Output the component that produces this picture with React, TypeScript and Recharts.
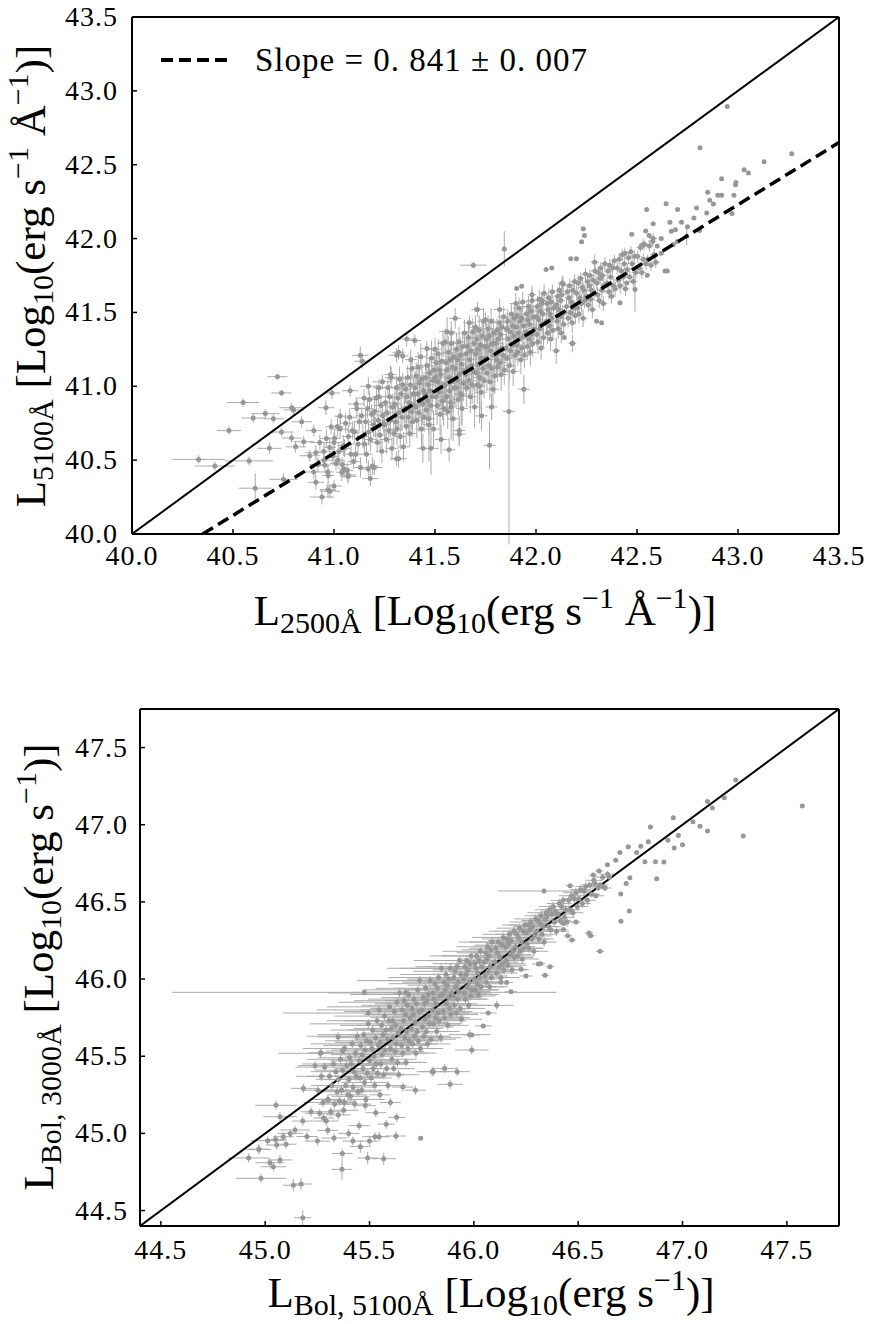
import React from "react";
import { ScatterChart, Scatter, XAxis, YAxis, ErrorBar, Legend } from "recharts";

// [x, y, xerr, yerr]
type Pt = [number, number, number, number | [number, number]];

const topDomain: [number, number] = [40, 43.5];
const topTicks = [40, 40.5, 41, 41.5, 42, 42.5, 43, 43.5];
const bottomDomain: [number, number] = [44.4, 47.75];
const bottomTicks = [44.5, 45, 45.5, 46, 46.5, 47, 47.5];

const fitSlope = 0.841;
const fitSlopeErr = 0.007;
const fitLine = [
  { x: 40.35, y: 40.0 },
  { x: 43.5, y: 42.65 },
];
const topUnity = [
  { x: 40, y: 40 },
  { x: 43.5, y: 43.5 },
];
const bottomUnity = [
  { x: 44.4, y: 44.4 },
  { x: 47.75, y: 47.75 },
];

// L5100 vs L2500 : faint end / outliers
const topLower: Pt[] = [
  [40.33, 40.505, 0.13, 0.03], [40.41, 40.46, 0.1, 0.03], [40.48, 40.7, 0.06, 0.03],
  [40.55, 40.89, 0.08, 0.03], [40.6, 40.785, 0.06, 0.03], [40.66, 40.815, 0.07, 0.03],
  [40.7, 40.78, 0.05, 0.03], [40.72, 41.065, 0.05, 0.02], [40.74, 40.955, 0.05, 0.02],
  [40.58, 40.495, 0.12, 0.03], [40.61, 40.31, 0.08, 0.1], [40.79, 40.855, 0.06, 0.03],
  [40.8, 40.84, 0.05, 0.03], [40.84, 40.76, 0.05, 0.04], [40.74, 40.69, 0.06, 0.03],
  [40.79, 40.65, 0.05, 0.03], [40.68, 40.58, 0.06, 0.04], [40.81, 40.59, 0.05, 0.04],
  [40.85, 40.625, 0.05, 0.04], [40.9, 40.7, 0.04, 0.04], [40.75, 40.37, 0.07, 0.04],
  [40.94, 40.25, 0.06, 0.05], [40.98, 40.29, 0.05, 0.05], [41.0, 40.325, 0.04, 0.04],
  [40.91, 40.55, 0.05, 0.05], [40.88, 40.53, 0.05, 0.04], [41.69, 41.82, 0.065, 0.02],
  [41.13, 41.21, 0.04, 0.06], [41.14, 41.17, 0.04, 0.05], [40.99, 40.955, 0.04, 0.04],
  [41.08, 40.97, 0.04, 0.04], [40.96, 40.855, 0.04, 0.05], [41.17, 41.0, 0.04, 0.06],
  [41.24, 41.03, 0.05, 0.05], [41.36, 41.32, 0.04, 0.05], [41.4, 41.31, 0.03, 0.04],
  [41.31, 41.21, 0.04, 0.05], [41.34, 41.205, 0.03, 0.05], [41.71, 41.52, 0.03, 0.05],
  [41.75, 41.45, 0.03, 0.05], [41.67, 41.43, 0.03, 0.05], [41.56, 41.37, 0.04, 0.1],
  [41.57, 40.57, 0.03, 0.08], [41.48, 40.58, 0.04, 0.18], [41.62, 40.675, 0.03, 0.08],
  [41.32, 40.51, 0.04, 0.06], [41.18, 40.375, 0.04, 0.05], [41.17, 40.44, 0.04, 0.06],
  [41.07, 40.4, 0.04, 0.05], [41.2, 40.45, 0.04, 0.05], [41.46, 41.255, 0.03, 0.05],
  [41.32, 41.23, 0.03, 0.05], [41.44, 40.58, 0.03, 0.1], [41.31, 40.51, 0.03, 0.05],
  [41.07, 40.39, 0.04, 0.05], [40.97, 40.3, 0.04, 0.05], [40.91, 40.35, 0.04, 0.05],
  [40.9, 40.42, 0.04, 0.05], [40.95, 40.5, 0.04, 0.05], [41.04, 40.47, 0.04, 0.05],
];

// band around the fit, sparser part
const topCloud: Pt[] = [
  [40.92, 40.47, 0.04, 0.05], [40.95, 40.56, 0.04, 0.06], [40.97, 40.42, 0.03, 0.05],
  [41.0, 40.62, 0.04, 0.07], [41.02, 40.5, 0.03, 0.05], [41.03, 40.71, 0.04, 0.06],
  [40.93, 40.62, 0.05, 0.05], [41.05, 40.44, 0.03, 0.06], [41.11, 40.88, 0.04, 0.05],
  [41.22, 40.93, 0.03, 0.06], [41.28, 41.08, 0.03, 0.06], [41.38, 41.18, 0.03, 0.07],
  [41.5, 41.25, 0.03, 0.08], [41.55, 41.3, 0.03, 0.09], [41.53, 40.64, 0.03, 0.1],
  [41.58, 41.36, 0.03, 0.08], [41.62, 40.7, 0.03, 0.1], [41.6, 41.46, 0.03, 0.07],
  [41.72, 41.0, 0.03, 0.25], [41.7, 41.4, 0.03, 0.08], [41.73, 40.8, 0.03, 0.1],
  [41.78, 40.86, 0.03, 0.09], [41.82, 41.52, 0.03, 0.07], [41.77, 40.6, 0.03, 0.16],
  [41.866, 40.83, 0.03, [0.9, 0.3]], [41.9, 41.56, 0.03, 0.07], [41.94, 40.98, 0.03, 0.1],
  [41.98, 41.62, 0.02, 0.06], [42.03, 41.58, 0.02, 0.06], [42.1, 41.24, 0.02, 0.09],
  [42.13, 41.7, 0.02, 0.05], [42.18, 41.29, 0.02, 0.06], [42.29, 41.84, 0.02, 0.05],
  [42.44, 41.9, 0.02, 0.04], [42.53, 41.96, 0.02, 0.04], [42.58, 42.0, 0.02, 0.04],
  [41.47, 40.74, 0.03, 0.25], [41.63, 40.94, 0.03, 0.2], [41.58, 40.86, 0.03, 0.22],
];

// dense core of the band
const topCore: Pt[] = [
  [40.955, 40.466, .03, .05], [40.962, 40.646, .03, .06], [40.971, 40.396, .03, .05], [40.979, 40.586, .03, .07], [40.986, 40.726, .03, .05], [40.994, 40.526, .03, .06],
  [41.003, 40.648, .03, .06], [41.01, 40.478, .03, .05], [41.017, 40.728, .03, .07], [41.024, 40.558, .03, .06], [41.031, 40.798, .03, .05], [41.039, 40.418, .03, .06], [41.046, 40.598, .03, .07],
  [41.052, 40.58, .03, .06], [41.058, 40.75, .03, .07], [41.065, 40.43, .03, .05], [41.071, 40.66, .03, .08], [41.078, 40.79, .03, .06], [41.084, 40.54, .03, .07], [41.091, 40.7, .03, .06], [41.097, 40.49, .03, .05],
  [41.101, 40.69, .03, .07], [41.107, 40.54, .03, .06], [41.113, 40.85, .03, .07], [41.119, 40.61, .03, .08], [41.125, 40.76, .03, .06], [41.131, 40.45, .03, .07], [41.137, 40.8, .03, .06], [41.143, 40.66, .03, .08], [41.149, 40.92, .03, .06],
  [41.151, 40.61, .03, .07], [41.156, 40.76, .03, .08], [41.161, 40.54, .03, .06], [41.166, 40.85, .03, .07], [41.171, 40.69, .03, .09], [41.176, 40.91, .03, .06], [41.181, 40.64, .03, .08], [41.186, 40.81, .03, .07], [41.191, 40.46, .03, .06], [41.196, 40.74, .03, .08],
  [41.201, 40.83, .03, .08], [41.205, 40.72, .03, .07], [41.21, 40.92, .03, .09], [41.214, 40.62, .03, .07], [41.219, 40.77, .03, .08], [41.223, 40.99, .03, .06], [41.228, 40.67, .03, .1], [41.232, 40.87, .03, .07], [41.237, 40.56, .03, .08], [41.241, 40.8, .03, .09], [41.246, 40.75, .03, .07],
  [41.251, 40.74, .03, .09], [41.255, 40.89, .03, .08], [41.259, 40.64, .03, .1], [41.263, 40.82, .03, .08], [41.267, 40.99, .03, .07], [41.271, 40.7, .03, .09], [41.275, 40.93, .03, .08], [41.279, 40.77, .03, .11], [41.283, 41.06, .03, .07], [41.287, 40.58, .03, .08], [41.291, 40.86, .03, .09], [41.296, 40.68, .03, .08],
  [41.301, 40.88, .03, .09], [41.305, 40.76, .03, .1], [41.309, 40.99, .03, .08], [41.312, 40.71, .03, .11], [41.316, 40.92, .03, .09], [41.32, 40.82, .03, .1], [41.324, 41.05, .03, .08], [41.328, 40.66, .03, .09], [41.332, 40.95, .03, .12], [41.336, 40.79, .03, .09], [41.34, 41.01, .03, .08], [41.344, 40.59, .03, .1], [41.348, 40.84, .03, .11],
  [41.351, 40.85, .03, .1], [41.354, 40.98, .03, .09], [41.358, 40.73, .03, .12], [41.361, 40.93, .03, .1], [41.365, 41.06, .03, .08], [41.368, 40.79, .03, .11], [41.372, 40.89, .03, .1], [41.375, 40.68, .03, .09], [41.379, 41.01, .03, .1], [41.382, 40.83, .03, .13], [41.386, 41.12, .03, .08], [41.389, 40.76, .03, .1], [41.393, 40.95, .03, .11], [41.396, 40.87, .03, .1],
  [41.401, 40.99, .03, .11], [41.404, 40.86, .03, .1], [41.407, 41.07, .03, .09], [41.41, 40.77, .03, .12], [41.414, 40.95, .03, .11], [41.417, 41.13, .03, .1], [41.42, 40.82, .03, .13], [41.423, 41.02, .03, .1], [41.426, 40.9, .03, .12], [41.43, 41.2, .03, .09], [41.433, 40.71, .03, .11], [41.436, 41.05, .03, .1], [41.439, 40.88, .03, .14], [41.443, 40.97, .03, .11], [41.446, 40.79, .03, .1],
  [41.451, 40.95, .03, .12], [41.454, 41.06, .03, .1], [41.457, 40.84, .03, .11], [41.46, 41.14, .03, .13], [41.464, 40.9, .03, .1], [41.467, 41.01, .03, .12], [41.47, 40.78, .03, .1], [41.473, 41.09, .03, .11], [41.476, 40.97, .03, .14], [41.48, 40.87, .03, .1], [41.483, 41.19, .03, .12], [41.486, 40.93, .03, .11], [41.489, 41.04, .03, .1], [41.493, 40.71, .03, .13], [41.496, 41.11, .03, .11],
  [41.501, 41.06, .03, .11], [41.504, 40.93, .03, .12], [41.507, 41.16, .03, .1], [41.51, 40.87, .03, .13], [41.513, 41.03, .03, .11], [41.516, 41.22, .03, .1], [41.519, 40.96, .03, .12], [41.522, 41.11, .03, .11], [41.525, 40.81, .03, .14], [41.528, 41.08, .03, .1], [41.531, 40.99, .03, .12], [41.534, 41.17, .03, .11], [41.537, 40.9, .03, .13], [41.54, 41.29, .03, .09], [41.543, 40.85, .03, .12], [41.546, 41.01, .03, .11],
  [41.551, 41.01, .03, .12], [41.554, 41.16, .03, .11], [41.557, 40.93, .03, .13], [41.56, 41.11, .03, .1], [41.563, 40.83, .03, .12], [41.566, 41.23, .03, .11], [41.569, 41.06, .03, .14], [41.572, 40.97, .03, .12], [41.575, 41.18, .03, .1], [41.578, 40.89, .03, .13], [41.581, 41.29, .03, .11], [41.584, 41.03, .03, .12], [41.587, 41.13, .03, .1], [41.59, 40.78, .03, .15], [41.593, 41.2, .03, .11], [41.596, 40.99, .03, .12],
  [41.601, 41.12, .03, .12], [41.604, 40.99, .03, .13], [41.607, 41.25, .03, .11], [41.61, 41.04, .03, .12], [41.613, 41.18, .03, .14], [41.616, 40.91, .03, .11], [41.619, 41.3, .03, .1], [41.622, 41.08, .03, .13], [41.625, 41.21, .03, .12], [41.628, 40.95, .03, .11], [41.631, 41.15, .03, .13], [41.634, 40.85, .03, .12], [41.637, 41.27, .03, .1], [41.64, 41.02, .03, .12], [41.643, 41.1, .03, .13], [41.646, 41.36, .03, .09],
  [41.651, 41.08, .03, .12], [41.654, 41.22, .03, .11], [41.657, 40.99, .03, .13], [41.66, 41.27, .03, .1], [41.663, 41.12, .03, .12], [41.666, 41.33, .03, .11], [41.669, 41.04, .03, .12], [41.672, 41.18, .03, .13], [41.675, 40.93, .03, .11], [41.678, 41.24, .03, .12], [41.681, 41.14, .03, .1], [41.684, 41.01, .03, .13], [41.687, 41.37, .03, .09], [41.69, 41.1, .03, .12], [41.693, 41.29, .03, .11], [41.696, 40.86, .03, .14],
  [41.701, 41.22, .03, .11], [41.704, 41.09, .03, .12], [41.707, 41.32, .03, .1], [41.71, 41.01, .03, .13], [41.713, 41.25, .03, .11], [41.716, 41.15, .03, .12], [41.719, 41.38, .03, .1], [41.722, 41.06, .03, .11], [41.725, 41.28, .03, .12], [41.728, 40.96, .03, .13], [41.731, 41.19, .03, .11], [41.734, 41.34, .03, .1], [41.737, 41.12, .03, .12], [41.74, 41.44, .03, .09], [41.743, 41.04, .03, .12], [41.746, 41.27, .03, .11],
  [41.751, 41.19, .03, .1], [41.754, 41.32, .03, .11], [41.757, 41.09, .03, .12], [41.76, 41.27, .03, .1], [41.763, 41.39, .03, .09], [41.766, 41.14, .03, .11], [41.769, 41.34, .03, .1], [41.772, 41.03, .03, .12], [41.775, 41.24, .03, .11], [41.778, 41.44, .03, .09], [41.781, 41.12, .03, .12], [41.784, 41.29, .03, .1], [41.787, 40.98, .03, .13], [41.79, 41.36, .03, .1], [41.793, 41.21, .03, .11], [41.796, 41.07, .03, .12],
  [41.801, 41.29, .03, .09], [41.804, 41.18, .03, .1], [41.807, 41.38, .03, .08], [41.81, 41.13, .03, .1], [41.813, 41.32, .03, .09], [41.816, 41.24, .03, .11], [41.819, 41.43, .03, .08], [41.822, 41.16, .03, .1], [41.825, 41.35, .03, .09], [41.828, 41.08, .03, .11], [41.831, 41.4, .03, .08], [41.834, 41.26, .03, .1], [41.837, 41.21, .03, .09], [41.84, 41.47, .03, .07], [41.843, 41.11, .03, .1],
  [41.851, 41.26, .03, .09], [41.854, 41.39, .03, .08], [41.857, 41.19, .03, .1], [41.86, 41.44, .03, .08], [41.863, 41.32, .03, .09], [41.869, 41.14, .03, .1], [41.872, 41.37, .03, .09], [41.875, 41.24, .03, .1], [41.878, 41.49, .03, .07], [41.881, 41.28, .03, .09], [41.884, 41.41, .03, .08], [41.887, 41.1, .03, .1], [41.89, 41.34, .03, .09], [41.893, 41.46, .03, .08], [41.896, 41.21, .03, .1],
  [41.901, 41.4, .03, .08], [41.904, 41.28, .03, .09], [41.907, 41.48, .03, .08], [41.91, 41.23, .03, .09], [41.913, 41.36, .03, .08], [41.916, 41.53, .03, .07], [41.919, 41.32, .03, .09], [41.922, 41.44, .03, .08], [41.925, 41.18, .03, .1], [41.928, 41.46, .03, .08], [41.931, 41.26, .03, .09], [41.934, 41.57, .03, .07], [41.937, 41.34, .03, .08], [41.94, 41.41, .03, .09], [41.943, 41.21, .03, .09],
  [41.951, 41.37, .03, .08], [41.954, 41.49, .03, .07], [41.957, 41.27, .03, .09], [41.96, 41.45, .03, .08], [41.963, 41.54, .03, .07], [41.966, 41.32, .03, .08], [41.969, 41.42, .03, .08], [41.972, 41.23, .03, .09], [41.975, 41.51, .03, .07], [41.978, 41.35, .03, .08], [41.981, 41.58, .03, .07], [41.984, 41.29, .03, .09], [41.987, 41.47, .03, .08], [41.99, 41.39, .03, .08],
  [42.001, 41.47, .02, .07], [42.004, 41.35, .02, .08], [42.007, 41.54, .02, .07], [42.01, 41.3, .02, .08], [42.013, 41.45, .02, .07], [42.016, 41.59, .02, .06], [42.019, 41.39, .02, .08], [42.022, 41.51, .02, .07], [42.025, 41.26, .02, .08], [42.028, 41.56, .02, .07], [42.031, 41.42, .02, .07], [42.034, 41.49, .02, .08], [42.037, 41.33, .02, .07], [42.04, 41.63, .02, .06],
  [42.051, 41.44, .02, .07], [42.054, 41.56, .02, .06], [42.057, 41.36, .02, .07], [42.06, 41.52, .02, .06], [42.063, 41.6, .02, .06], [42.066, 41.41, .02, .07], [42.069, 41.49, .02, .07], [42.072, 41.32, .02, .08], [42.075, 41.57, .02, .06], [42.078, 41.46, .02, .07], [42.081, 41.64, .02, .05], [42.084, 41.38, .02, .07], [42.087, 41.53, .02, .06],
  [42.101, 41.55, .02, .06], [42.104, 41.44, .02, .07], [42.107, 41.61, .02, .06], [42.11, 41.39, .02, .07], [42.113, 41.52, .02, .06], [42.116, 41.65, .02, .05], [42.119, 41.47, .02, .07], [42.122, 41.58, .02, .06], [42.125, 41.36, .02, .07], [42.128, 41.62, .02, .06], [42.131, 41.49, .02, .06], [42.134, 41.69, .02, .05], [42.137, 41.42, .02, .07],
  [42.151, 41.54, .02, .06], [42.155, 41.64, .02, .05], [42.159, 41.46, .02, .06], [42.163, 41.6, .02, .05], [42.167, 41.68, .02, .05], [42.171, 41.5, .02, .06], [42.175, 41.57, .02, .06], [42.179, 41.43, .02, .07], [42.183, 41.65, .02, .05], [42.187, 41.53, .02, .06], [42.191, 41.71, .02, .05], [42.195, 41.48, .02, .06],
  [42.201, 41.63, .02, .05], [42.205, 41.53, .02, .06], [42.209, 41.7, .02, .05], [42.213, 41.49, .02, .06], [42.217, 41.6, .02, .05], [42.221, 41.73, .02, .04], [42.225, 41.56, .02, .06], [42.229, 41.67, .02, .05], [42.233, 41.46, .02, .06], [42.237, 41.65, .02, .05], [42.241, 41.58, .02, .05], [42.245, 41.76, .02, .04],
  [42.251, 41.61, .02, .05], [42.255, 41.71, .02, .05], [42.259, 41.55, .02, .05], [42.263, 41.68, .02, .04], [42.267, 41.75, .02, .04], [42.271, 41.59, .02, .05], [42.275, 41.65, .02, .05], [42.279, 41.52, .02, .06], [42.283, 41.72, .02, .04], [42.287, 41.63, .02, .05], [42.292, 41.78, .02, .04],
  [42.301, 41.7, .02, .05], [42.305, 41.62, .02, .05], [42.309, 41.77, .02, .04], [42.313, 41.58, .02, .05], [42.317, 41.73, .02, .04], [42.321, 41.8, .02, .04], [42.325, 41.65, .02, .05], [42.329, 41.75, .02, .04], [42.333, 41.56, .02, .05], [42.337, 41.68, .02, .05], [42.341, 41.83, .02, .04],
  [42.352, 41.7, .02, .04], [42.356, 41.78, .02, .04], [42.361, 41.64, .02, .05], [42.365, 41.82, .02, .04], [42.37, 41.74, .02, .04], [42.374, 41.61, .02, .05], [42.379, 41.8, .02, .04], [42.383, 41.68, .02, .05], [42.388, 41.85, .02, .04], [42.392, 41.66, .02, .05],
  [42.402, 41.8, .02, .04], [42.407, 41.72, .02, .04], [42.412, 41.86, .02, .04], [42.417, 41.68, .02, .05], [42.422, 41.78, .02, .04], [42.427, 41.89, .02, .04], [42.432, 41.74, .02, .05], [42.437, 41.83, .02, .04], [42.443, 41.66, .02, .05],
  [42.452, 41.79, .02, .04], [42.458, 41.87, .02, .04], [42.464, 41.74, .02, .04], [42.47, 41.91, .02, .04], [42.476, 41.83, .02, .04], [42.482, 41.71, .02, .05], [42.488, 41.88, .02, .04], [42.494, 41.77, .02, .04],
  [42.503, 41.88, .02, .04], [42.51, 41.8, .02, .04], [42.517, 41.94, .02, .03], [42.524, 41.77, .02, .04], [42.531, 41.86, .02, .04], [42.538, 41.96, .02, .03], [42.545, 41.83, .02, .04],
  [42.553, 41.86, .02, .03], [42.561, 41.95, .02, .04], [42.569, 41.82, .02, .04], [42.577, 41.98, .02, .03], [42.585, 41.89, .02, .04], [42.593, 41.84, .02, .04],
];

// bright end
const topUpper: Pt[] = [
  [42.947, 42.894, 0.01, 0.01], [42.812, 42.615, 0.01, 0.01], [43.266, 42.574, 0.01, 0.01],
  [43.129, 42.52, 0.01, 0.01], [43.03, 42.466, 0.01, 0.01], [43.051, 42.444, 0.01, 0.01],
  [42.919, 42.405, 0.01, 0.01], [42.99, 42.38, 0.01, 0.01], [42.988, 42.365, 0.01, 0.01],
  [42.85, 42.313, 0.01, 0.01], [42.9, 42.293, 0.01, 0.01], [42.919, 42.293, 0.01, 0.01],
  [42.878, 42.234, 0.01, 0.01], [42.86, 42.26, 0.01, 0.01], [42.98, 42.293, 0.01, 0.01],
  [42.97, 42.169, 0.01, 0.01], [42.795, 42.207, 0.01, 0.01], [42.782, 42.14, 0.01, 0.01],
  [42.845, 42.173, 0.01, 0.01], [42.701, 42.196, 0.01, 0.01], [42.663, 42.111, 0.01, 0.01],
  [42.72, 42.11, 0.01, 0.01], [42.69, 42.06, 0.01, 0.01], [42.746, 42.016, 0.01, 0.06],
  [42.81, 42.054, 0.01, 0.01], [42.639, 41.78, 0.01, 0.01], [42.65, 41.78, 0.01, 0.01],
  [42.551, 41.752, 0.01, 0.01], [42.49, 41.655, 0.01, 0.15], [42.416, 41.565, 0.01, 0.01],
  [42.449, 41.7, 0.01, 0.01], [42.548, 42.196, 0.01, 0.01], [42.644, 42.236, 0.01, 0.01],
  [42.474, 42.03, 0.01, 0.01], [42.543, 42.052, 0.01, 0.01], [42.234, 42.066, 0.01, 0.01],
  [42.226, 41.978, 0.01, 0.01], [42.24, 42.02, 0.01, 0.01], [42.172, 41.863, 0.01, 0.01],
  [42.2, 41.863, 0.01, 0.01], [42.078, 41.8, 0.01, 0.01], [42.05, 41.79, 0.01, 0.01],
  [41.929, 41.678, 0.01, 0.01], [41.904, 41.662, 0.01, 0.01], [41.843, 41.93, 0.01, 0.12],
  [41.706, 41.52, 0.01, 0.01], [42.18, 41.292, 0.01, 0.01], [42.325, 41.43, 0.01, 0.01],
  [42.3, 41.44, 0.01, 0.01], [42.14, 41.33, 0.01, 0.01], [42.6, 41.95, 0.01, 0.01],
  [42.62, 42.0, 0.01, 0.01], [42.67, 42.05, 0.01, 0.01], [42.58, 42.1, 0.01, 0.01],
  [42.62, 41.9, 0.01, 0.01], [42.7, 41.98, 0.01, 0.01], [42.75, 42.08, 0.01, 0.01],
  [42.68, 41.96, 0.01, 0.01], [42.56, 42.02, 0.01, 0.01],
];

// Lbol(3000) vs Lbol(5100) : faint end / outliers
const bottomLower: Pt[] = [
  [45.475, 45.914, 0.92, 0.02], [45.673, 45.914, 0.25, 0.02], [45.494, 45.78, 0.41, 0.02],
  [45.349, 45.625, 0.1, 0.03], [45.264, 45.519, 0.2, 0.03], [45.371, 45.534, 0.08, 0.03],
  [45.239, 45.439, 0.08, 0.03], [45.183, 45.292, 0.06, 0.03], [45.052, 45.182, 0.1, 0.03],
  [45.071, 45.108, 0.08, 0.03], [45.143, 45.022, 0.07, 0.03], [45.012, 44.953, 0.08, 0.03],
  [44.97, 44.897, 0.06, 0.03], [44.921, 44.841, 0.1, 0.03], [45.023, 44.81, 0.07, 0.03],
  [45.039, 44.784, 0.06, 0.03], [45.071, 44.828, 0.06, 0.03], [44.98, 44.709, 0.12, 0.03],
  [45.135, 44.664, 0.05, 0.04], [45.172, 44.672, 0.05, 0.04], [45.18, 44.454, 0.04, 0.05],
  [45.368, 44.767, 0.05, 0.07], [45.491, 44.841, 0.05, 0.04], [45.568, 44.836, 0.06, 0.04],
  [45.37, 44.87, 0.05, 0.03], [45.456, 44.914, 0.05, 0.04], [45.526, 44.979, 0.06, 0.03],
  [45.546, 44.979, 0.05, 0.03], [45.627, 44.983, 0.05, 0.03], [45.745, 44.968, 0.0, 0.0],
  [45.63, 45.104, 0.04, 0.03], [45.53, 45.134, 0.05, 0.03], [45.886, 45.318, 0.06, 0.03],
  [45.806, 45.4, 0.08, 0.03], [44.969, 44.897, 0.05, 0.03], [45.055, 44.925, 0.05, 0.03],
  [45.087, 44.979, 0.05, 0.03], [45.267, 45.523, 0.06, 0.03],
  [45.12, 45.0, 0.06, 0.03], [45.2, 44.98, 0.05, 0.03], [45.25, 44.95, 0.06, 0.03],
  [45.3, 45.02, 0.05, 0.03], [45.33, 44.97, 0.06, 0.03], [45.4, 45.0, 0.05, 0.03],
  [45.45, 45.05, 0.05, 0.03], [45.42, 44.95, 0.05, 0.03], [45.28, 45.1, 0.05, 0.03],
  [45.35, 45.12, 0.06, 0.03], [45.18, 45.08, 0.05, 0.03], [45.22, 45.14, 0.05, 0.03],
  [45.1, 44.93, 0.05, 0.03], [45.05, 44.96, 0.05, 0.03], [45.48, 45.18, 0.05, 0.03],
  [45.6, 45.2, 0.05, 0.03], [45.55, 45.25, 0.05, 0.03], [45.66, 45.3, 0.05, 0.03],
  [45.72, 45.28, 0.05, 0.03], [45.58, 45.06, 0.04, 0.03], [45.5, 44.95, 0.04, 0.03],
  [45.38, 45.2, 0.06, 0.03], [45.3, 45.22, 0.06, 0.03],
  [45.99, 45.54, 0.08, 0.03], [45.98, 45.64, 0.1, 0.03], [46.11, 45.83, 0.08, 0.03],
  [45.92, 45.4, 0.06, 0.03], [45.86, 45.42, 0.06, 0.03], [45.8, 45.4, 0.06, 0.03],
];

// dense core of the relation
const bottomCore: Pt[] = [
  [45.253, 45.28, .08, .03], [45.261, 45.13, .07, .03], [45.269, 45.37, .12, .03], [45.277, 45.2, .09, .03], [45.285, 45.43, .14, .03], [45.293, 45.08, .06, .03],
  [45.302, 45.22, .08, .03], [45.308, 45.37, .11, .03], [45.314, 45.14, .07, .03], [45.32, 45.31, .1, .03], [45.327, 45.45, .15, .03], [45.333, 45.19, .08, .03], [45.339, 45.4, .12, .03], [45.345, 45.27, .09, .03],
  [45.351, 45.35, .11, .03], [45.356, 45.21, .08, .03], [45.361, 45.48, .16, .03], [45.366, 45.28, .1, .03], [45.371, 45.41, .13, .03], [45.376, 45.15, .07, .03], [45.381, 45.55, .2, .03], [45.386, 45.31, .1, .03], [45.391, 45.44, .14, .03], [45.396, 45.25, .09, .03],
  [45.401, 45.35, .12, .03], [45.405, 45.49, .15, .03], [45.409, 45.24, .09, .03], [45.413, 45.45, .14, .03], [45.417, 45.58, .2, .03], [45.421, 45.3, .1, .03], [45.425, 45.4, .12, .03], [45.429, 45.19, .08, .03], [45.433, 45.52, .17, .03], [45.437, 45.37, .12, .03], [45.441, 45.63, .24, .03], [45.445, 45.27, .1, .03],
  [45.451, 45.47, .14, .03], [45.455, 45.36, .11, .03], [45.458, 45.57, .18, .03], [45.462, 45.28, .1, .03], [45.465, 45.51, .15, .03], [45.469, 45.42, .13, .03], [45.472, 45.64, .22, .03], [45.476, 45.33, .11, .03], [45.479, 45.54, .16, .03], [45.483, 45.22, .09, .03], [45.486, 45.6, .2, .03], [45.49, 45.39, .12, .03], [45.494, 45.71, .28, .03],
  [45.501, 45.47, .13, .03], [45.504, 45.59, .17, .03], [45.508, 45.36, .1, .03], [45.511, 45.55, .15, .03], [45.515, 45.67, .2, .03], [45.518, 45.42, .12, .03], [45.522, 45.5, .14, .03], [45.525, 45.31, .09, .03], [45.529, 45.62, .18, .03], [45.532, 45.45, .13, .03], [45.536, 45.73, .24, .03], [45.539, 45.39, .11, .03], [45.543, 45.57, .16, .03], [45.546, 45.8, .3, .03],
  [45.551, 45.59, .16, .03], [45.554, 45.45, .12, .03], [45.558, 45.7, .2, .03], [45.561, 45.51, .14, .03], [45.565, 45.64, .17, .03], [45.568, 45.38, .1, .03], [45.572, 45.76, .24, .03], [45.575, 45.54, .15, .03], [45.579, 45.67, .18, .03], [45.582, 45.42, .11, .03], [45.586, 45.61, .16, .03], [45.589, 45.31, .09, .03], [45.593, 45.73, .22, .03], [45.596, 45.82, .3, .03],
  [45.601, 45.55, .15, .03], [45.604, 45.68, .18, .03], [45.607, 45.48, .12, .03], [45.61, 45.73, .2, .03], [45.613, 45.62, .16, .03], [45.616, 45.42, .1, .03], [45.619, 45.79, .24, .03], [45.622, 45.53, .14, .03], [45.625, 45.7, .19, .03], [45.628, 45.58, .15, .03], [45.631, 45.85, .28, .03], [45.634, 45.46, .12, .03], [45.637, 45.65, .17, .03], [45.64, 45.38, .1, .03], [45.644, 45.91, .34, .03],
  [45.651, 45.68, .16, .03], [45.654, 45.57, .13, .03], [45.657, 45.8, .2, .03], [45.66, 45.52, .12, .03], [45.663, 45.73, .18, .03], [45.666, 45.86, .24, .03], [45.669, 45.62, .15, .03], [45.672, 45.77, .2, .03], [45.675, 45.46, .1, .03], [45.678, 45.66, .16, .03], [45.681, 45.83, .22, .03], [45.684, 45.55, .13, .03], [45.687, 45.9, .28, .03], [45.69, 45.6, .14, .03], [45.694, 45.75, .19, .03],
  [45.701, 45.68, .15, .03], [45.704, 45.81, .2, .03], [45.707, 45.58, .12, .03], [45.71, 45.77, .17, .03], [45.713, 45.87, .22, .03], [45.716, 45.63, .14, .03], [45.719, 45.72, .16, .03], [45.722, 45.52, .1, .03], [45.725, 45.84, .2, .03], [45.728, 45.66, .14, .03], [45.731, 45.93, .26, .03], [45.734, 45.6, .12, .03], [45.737, 45.79, .18, .03], [45.74, 45.99, .3, .03], [45.744, 45.55, .11, .03],
  [45.751, 45.8, .18, .03], [45.754, 45.69, .15, .03], [45.757, 45.88, .2, .03], [45.76, 45.63, .13, .03], [45.763, 45.84, .19, .03], [45.766, 45.74, .16, .03], [45.769, 45.94, .24, .03], [45.772, 45.66, .14, .03], [45.775, 45.86, .2, .03], [45.778, 45.58, .11, .03], [45.781, 45.9, .22, .03], [45.784, 45.76, .17, .03], [45.787, 45.71, .15, .03], [45.79, 45.99, .26, .03], [45.794, 45.61, .12, .03],
  [45.801, 45.8, .16, .03], [45.804, 45.91, .2, .03], [45.807, 45.71, .13, .03], [45.81, 45.87, .18, .03], [45.813, 45.97, .22, .03], [45.816, 45.75, .14, .03], [45.819, 45.84, .17, .03], [45.822, 45.66, .11, .03], [45.825, 45.94, .2, .03], [45.828, 45.78, .15, .03], [45.831, 46.01, .24, .03], [45.834, 45.73, .13, .03], [45.837, 45.89, .18, .03], [45.84, 45.62, .1, .03], [45.844, 46.07, .26, .03],
  [45.851, 45.9, .17, .03], [45.854, 45.79, .14, .03], [45.857, 45.98, .2, .03], [45.86, 45.75, .12, .03], [45.863, 45.93, .18, .03], [45.866, 46.03, .22, .03], [45.869, 45.84, .15, .03], [45.872, 45.96, .19, .03], [45.875, 45.7, .1, .03], [45.878, 45.88, .16, .03], [45.881, 46.0, .2, .03], [45.884, 45.81, .14, .03], [45.887, 46.07, .24, .03], [45.89, 45.77, .13, .03], [45.894, 45.91, .17, .03],
  [45.901, 45.89, .15, .03], [45.904, 46.01, .18, .03], [45.907, 45.83, .13, .03], [45.91, 46.05, .2, .03], [45.913, 45.95, .16, .03], [45.916, 45.78, .11, .03], [45.919, 46.08, .2, .03], [45.922, 45.87, .14, .03], [45.925, 45.98, .17, .03], [45.928, 45.92, .15, .03], [45.931, 46.12, .22, .03], [45.934, 45.81, .12, .03], [45.937, 46.03, .18, .03], [45.94, 45.74, .1, .03],
  [45.951, 46.0, .15, .03], [45.954, 45.91, .13, .03], [45.957, 46.08, .18, .03], [45.96, 45.87, .11, .03], [45.963, 46.03, .16, .03], [45.966, 46.12, .19, .03], [45.969, 45.95, .14, .03], [45.972, 46.06, .17, .03], [45.975, 45.83, .1, .03], [45.978, 45.98, .15, .03], [45.981, 46.1, .18, .03], [45.984, 45.89, .12, .03], [45.987, 46.15, .2, .03], [45.99, 45.93, .13, .03],
  [46.001, 46.0, .13, .03], [46.004, 46.1, .15, .03], [46.007, 45.93, .11, .03], [46.01, 46.07, .14, .03], [46.013, 46.15, .17, .03], [46.016, 45.97, .12, .03], [46.019, 46.04, .13, .03], [46.022, 45.9, .1, .03], [46.025, 46.12, .16, .03], [46.028, 46.01, .13, .03], [46.031, 46.18, .18, .03], [46.034, 45.95, .11, .03], [46.037, 46.08, .14, .03],
  [46.051, 46.11, .12, .03], [46.054, 46.02, .11, .03], [46.057, 46.17, .14, .03], [46.06, 45.98, .1, .03], [46.063, 46.13, .13, .03], [46.066, 46.21, .15, .03], [46.069, 46.05, .12, .03], [46.072, 46.15, .13, .03], [46.075, 45.95, .09, .03], [46.078, 46.08, .12, .03], [46.081, 46.19, .14, .03], [46.084, 46.01, .11, .03], [46.087, 46.24, .16, .03],
  [46.101, 46.11, .11, .03], [46.105, 46.2, .13, .03], [46.109, 46.04, .1, .03], [46.113, 46.17, .12, .03], [46.117, 46.24, .14, .03], [46.121, 46.08, .11, .03], [46.125, 46.14, .12, .03], [46.129, 46.01, .09, .03], [46.133, 46.22, .13, .03], [46.137, 46.1, .11, .03], [46.141, 46.27, .15, .03], [46.145, 46.06, .1, .03],
  [46.151, 46.21, .1, .03], [46.155, 46.12, .09, .03], [46.159, 46.26, .12, .03], [46.163, 46.09, .09, .03], [46.167, 46.23, .11, .03], [46.171, 46.29, .13, .03], [46.175, 46.16, .1, .03], [46.179, 46.25, .11, .03], [46.183, 46.06, .08, .03], [46.187, 46.18, .1, .03], [46.191, 46.31, .12, .03], [46.195, 46.14, .09, .03],
  [46.201, 46.21, .09, .03], [46.205, 46.29, .1, .03], [46.21, 46.15, .08, .03], [46.214, 46.27, .1, .03], [46.219, 46.33, .11, .03], [46.223, 46.18, .09, .03], [46.228, 46.24, .1, .03], [46.232, 46.13, .08, .03], [46.237, 46.31, .1, .03], [46.241, 46.2, .09, .03], [46.245, 46.35, .11, .03],
  [46.251, 46.3, .08, .03], [46.255, 46.23, .08, .03], [46.26, 46.35, .09, .03], [46.264, 46.2, .07, .03], [46.269, 46.32, .09, .03], [46.273, 46.37, .1, .03], [46.278, 46.26, .08, .03], [46.282, 46.34, .09, .03], [46.287, 46.18, .07, .03], [46.291, 46.28, .08, .03], [46.296, 46.39, .1, .03],
  [46.302, 46.31, .07, .03], [46.307, 46.38, .08, .03], [46.312, 46.26, .07, .03], [46.317, 46.36, .08, .03], [46.322, 46.41, .08, .03], [46.327, 46.29, .07, .03], [46.332, 46.34, .08, .03], [46.337, 46.24, .06, .03], [46.342, 46.39, .08, .03], [46.347, 46.43, .09, .03],
  [46.352, 46.41, .07, .03], [46.358, 46.34, .06, .03], [46.363, 46.45, .07, .03], [46.369, 46.32, .06, .03], [46.374, 46.42, .07, .03], [46.38, 46.47, .07, .03], [46.385, 46.37, .06, .03], [46.391, 46.44, .07, .03], [46.396, 46.31, .06, .03],
  [46.403, 46.42, .06, .03], [46.409, 46.49, .06, .03], [46.415, 46.38, .05, .03], [46.421, 46.47, .06, .03], [46.428, 46.51, .06, .03], [46.434, 46.4, .05, .03], [46.44, 46.45, .06, .03], [46.446, 46.37, .05, .03],
  [46.454, 46.51, .05, .03], [46.461, 46.45, .05, .03], [46.468, 46.54, .06, .03], [46.475, 46.43, .05, .03], [46.482, 46.52, .05, .03], [46.489, 46.56, .06, .03], [46.496, 46.47, .05, .03],
  [46.504, 46.52, .05, .03], [46.512, 46.58, .05, .03], [46.52, 46.49, .04, .03], [46.528, 46.57, .05, .03], [46.536, 46.6, .05, .03], [46.544, 46.51, .04, .03],
  [46.555, 46.61, .04, .02], [46.565, 46.55, .04, .02], [46.575, 46.64, .04, .02], [46.585, 46.54, .04, .02], [46.595, 46.59, .04, .02],
  [46.605, 46.61, .04, .02], [46.617, 46.66, .04, .02], [46.629, 46.59, .03, .02], [46.641, 46.68, .04, .02],
];

const bottomUpper: Pt[] = [
  [47.574, 47.121, 0.01, 0.01], [47.291, 46.927, 0.01, 0.01], [47.255, 47.29, 0.01, 0.01],
  [47.2, 47.175, 0.01, 0.01], [47.143, 47.108, 0.01, 0.01], [47.12, 47.15, 0.01, 0.01],
  [47.084, 46.99, 0.01, 0.01], [47.05, 47.02, 0.01, 0.01], [47.12, 46.96, 0.01, 0.01],
  [46.956, 47.046, 0.01, 0.01], [46.98, 46.93, 0.01, 0.01], [47.0, 46.87, 0.01, 0.01],
  [46.93, 46.9, 0.01, 0.01], [46.96, 46.85, 0.01, 0.01], [46.846, 46.985, 0.01, 0.01],
  [46.876, 46.65, 0.01, 0.01], [46.911, 46.759, 0.01, 0.01], [46.87, 46.76, 0.01, 0.01],
  [46.82, 46.76, 0.01, 0.01], [46.748, 46.657, 0.01, 0.01], [46.73, 46.62, 0.01, 0.01],
  [46.705, 46.374, 0.01, 0.01], [46.745, 46.441, 0.01, 0.01], [46.704, 46.551, 0.01, 0.01],
  [46.605, 46.18, 0.02, 0.01], [46.47, 46.253, 0.02, 0.01], [46.45, 46.28, 0.02, 0.01],
  [46.43, 46.36, 0.02, 0.01], [46.49, 46.37, 0.02, 0.01], [46.552, 46.299, 0.02, 0.01],
  [46.56, 46.28, 0.02, 0.01], [46.429, 46.322, 0.02, 0.01], [46.365, 46.08, 0.02, 0.01],
  [46.341, 46.024, 0.02, 0.01], [46.32, 46.1, 0.02, 0.01], [46.336, 46.571, 0.22, 0.01],
  [46.74, 46.858, 0.01, 0.01], [46.836, 46.89, 0.01, 0.01], [46.8, 46.86, 0.01, 0.01],
  [46.78, 46.82, 0.01, 0.01], [46.7, 46.82, 0.01, 0.01], [46.68, 46.77, 0.01, 0.01],
  [46.64, 46.74, 0.01, 0.01], [46.461, 46.605, 0.02, 0.01], [46.572, 46.674, 0.02, 0.01],
  [46.58, 46.62, 0.02, 0.01], [46.62, 46.6, 0.02, 0.01], [46.65, 46.66, 0.02, 0.01],
  [46.6, 46.7, 0.02, 0.01], [46.069, 45.78, 0.04, 0.01], [46.045, 45.696, 0.04, 0.01],
  [45.99, 45.638, 0.04, 0.01], [46.178, 45.918, 0.03, 0.01], [46.157, 45.977, 0.03, 0.01],
  [46.13, 45.98, 0.03, 0.01], [46.226, 46.063, 0.03, 0.01], [46.25, 46.02, 0.03, 0.01],
  [46.309, 46.098, 0.03, 0.01],
];

const toRows = (pts: Pt[]) => pts.map(([x, y, ex, ey]) => ({ x, y, ex, ey }));
const topRows = toRows([...topLower, ...topCloud, ...topCore, ...topUpper]);
const bottomRows = toRows([...bottomLower, ...bottomCore, ...bottomUpper]);

const FONT = "Liberation Serif";
const DOT = "#979797";
const ERR = "#ababab";

const Dot = (p: any) => <circle cx={p.cx} cy={p.cy} r={2.5} fill={DOT} />;
const NoDot = () => <g />;

const makeTick = (side: "bottom" | "left", dx: number, dy: number) => (props: any) => {
  const { x, y, payload } = props;
  return (
    <text
      x={x + dx}
      y={y + dy}
      textAnchor={side === "bottom" ? "middle" : "end"}
      fontFamily={FONT}
      fontSize={28}
      letterSpacing={1}
      fill="#000"
    >
      {Number(payload.value).toFixed(1)}
    </text>
  );
};

type Seg = { t: string; s?: "sub" | "sup" };

function MathTitle({ x, y, segs, vertical }: { x: number; y: number; segs: Seg[]; vertical?: boolean }) {
  let cur = 0;
  const spans = segs.map((sg, i) => {
    const target = sg.s === "sub" ? 8 : sg.s === "sup" ? -17 : 0;
    const dy = target - cur;
    cur = target;
    return (
      <tspan key={i} dy={dy} fontSize={sg.s ? 30 : 43}>
        {sg.t}
      </tspan>
    );
  });
  return (
    <text
      transform={`translate(${x},${y})${vertical ? " rotate(-90)" : ""}`}
      textAnchor="middle"
      fill="#000"
      fontFamily={FONT}
      fontSize={43}
      style={{ whiteSpace: "pre" }}
    >
      {spans}
    </text>
  );
}

const titleTopX: Seg[] = [
  { t: "L" }, { t: "2500Å", s: "sub" }, { t: " [Log" }, { t: "10", s: "sub" },
  { t: "(erg s" }, { t: "−1", s: "sup" }, { t: " Å" }, { t: "−1", s: "sup" }, { t: ")]" },
];
const titleTopY: Seg[] = [
  { t: "L" }, { t: "5100Å", s: "sub" }, { t: " [Log" }, { t: "10", s: "sub" },
  { t: "(erg s" }, { t: "−1", s: "sup" }, { t: " Å" }, { t: "−1", s: "sup" }, { t: ")]" },
];
const titleBotX: Seg[] = [
  { t: "L" }, { t: "Bol, 5100Å", s: "sub" }, { t: " [Log" }, { t: "10", s: "sub" },
  { t: "(erg s" }, { t: "−1", s: "sup" }, { t: ")]" },
];
const titleBotY: Seg[] = [
  { t: "L" }, { t: "Bol, 3000Å", s: "sub" }, { t: " [Log" }, { t: "10", s: "sub" },
  { t: "(erg s" }, { t: "−1", s: "sup" }, { t: ")]" },
];

const axisLine = { stroke: "#000", strokeWidth: 2 };
const tickLine = { stroke: "#000", strokeWidth: 1.5 };

const FitLegend = () => (
  <svg width={480} height={50} style={{ display: "block" }}>
    <line x1={11} y1={24} x2={78} y2={24} stroke="#000" strokeWidth={4} strokeDasharray="12 6" />
    <text x={105} y={35} fill="#000" fontFamily={FONT} fontSize={33} letterSpacing={1}>
      {`Slope = ${fitSlope.toFixed(3).replace(".", ". ")} ± ${fitSlopeErr.toFixed(3).replace(".", ". ")}`}
    </text>
  </svg>
);

export default function App() {
  return (
    <div style={{ position: "absolute", left: 0, top: 0, width: 869, height: 1324, background: "#fff" }}>
      <div style={{ position: "absolute", left: 0, top: 0 }}>
        <ScatterChart width={869} height={660} margin={{ top: 16, right: 29, bottom: 66, left: 42 }}>
          <XAxis xAxisId="b" type="number" dataKey="x" domain={topDomain} ticks={topTicks} allowDataOverflow
            interval={0} height={60} tickSize={-5} tickMargin={0} tick={makeTick("bottom", 0, 36)}
            axisLine={axisLine} tickLine={tickLine} />
          <XAxis xAxisId="t" orientation="top" type="number" dataKey="x" domain={topDomain} ticks={topTicks}
            allowDataOverflow interval={0} height={1} tickSize={-5} tick={false} axisLine={axisLine} tickLine={tickLine} />
          <YAxis yAxisId="l" type="number" dataKey="y" domain={topDomain} ticks={topTicks} allowDataOverflow
            interval={0} width={90} tickSize={-5} tickMargin={0} tick={makeTick("left", -19, 9)}
            axisLine={axisLine} tickLine={tickLine} />
          <YAxis yAxisId="r" orientation="right" type="number" dataKey="y" domain={topDomain} ticks={topTicks}
            allowDataOverflow interval={0} width={1} tickSize={-5} tick={false} axisLine={axisLine} tickLine={tickLine} />
          <Scatter name="1:1" data={topUnity} xAxisId="t" yAxisId="r" shape={NoDot}
            line={{ stroke: "#000", strokeWidth: 2 }} isAnimationActive={false} />
          <Scatter name="AGN" data={topRows} xAxisId="b" yAxisId="l" shape={Dot} isAnimationActive={false}>
            <ErrorBar dataKey="ex" direction="x" width={0} stroke={ERR} strokeWidth={1} isAnimationActive={false} />
            <ErrorBar dataKey="ey" direction="y" width={0} stroke={ERR} strokeWidth={1} isAnimationActive={false} />
          </Scatter>
          <Scatter name="fit" data={fitLine} xAxisId="b" yAxisId="l" shape={NoDot}
            line={{ stroke: "#000", strokeWidth: 3.5, strokeDasharray: "12 6" }} isAnimationActive={false} />
          <Legend layout="horizontal" verticalAlign="middle" align="center"
            wrapperStyle={{ left: 150, top: 36, width: 480, height: 50 }} content={() => <FitLegend />} />
          <MathTitle x={485} y={625} segs={titleTopX} />
          <MathTitle x={45} y={276} segs={titleTopY} vertical />
        </ScatterChart>
      </div>
      <div style={{ position: "absolute", left: 0, top: 680 }}>
        <ScatterChart width={869} height={644} margin={{ top: 28, right: 29, bottom: 38, left: 50 }}>
          <XAxis xAxisId="b" type="number" dataKey="x" domain={bottomDomain} ticks={bottomTicks} allowDataOverflow
            interval={0} height={60} tickSize={-5} tickMargin={0} tick={makeTick("bottom", 0, 38)}
            axisLine={axisLine} tickLine={tickLine} />
          <XAxis xAxisId="t" orientation="top" type="number" dataKey="x" domain={bottomDomain} ticks={bottomTicks}
            allowDataOverflow interval={0} height={1} tickSize={-5} tick={false} axisLine={axisLine} tickLine={tickLine} />
          <YAxis yAxisId="l" type="number" dataKey="y" domain={bottomDomain} ticks={bottomTicks} allowDataOverflow
            interval={0} width={90} tickSize={-5} tickMargin={0} tick={makeTick("left", -17, 9)}
            axisLine={axisLine} tickLine={tickLine} />
          <YAxis yAxisId="r" orientation="right" type="number" dataKey="y" domain={bottomDomain} ticks={bottomTicks}
            allowDataOverflow interval={0} width={1} tickSize={-5} tick={false} axisLine={axisLine} tickLine={tickLine} />
          <Scatter name="1:1" data={bottomUnity} xAxisId="t" yAxisId="r" shape={NoDot}
            line={{ stroke: "#000", strokeWidth: 2 }} isAnimationActive={false} />
          <Scatter name="AGN" data={bottomRows} xAxisId="b" yAxisId="l" shape={Dot} isAnimationActive={false}>
            <ErrorBar dataKey="ex" direction="x" width={0} stroke={ERR} strokeWidth={1} isAnimationActive={false} />
            <ErrorBar dataKey="ey" direction="y" width={0} stroke={ERR} strokeWidth={1} isAnimationActive={false} />
          </Scatter>
          <MathTitle x={491} y={627} segs={titleBotX} />
          <MathTitle x={53} y={287} segs={titleBotY} vertical />
        </ScatterChart>
      </div>
    </div>
  );
}
